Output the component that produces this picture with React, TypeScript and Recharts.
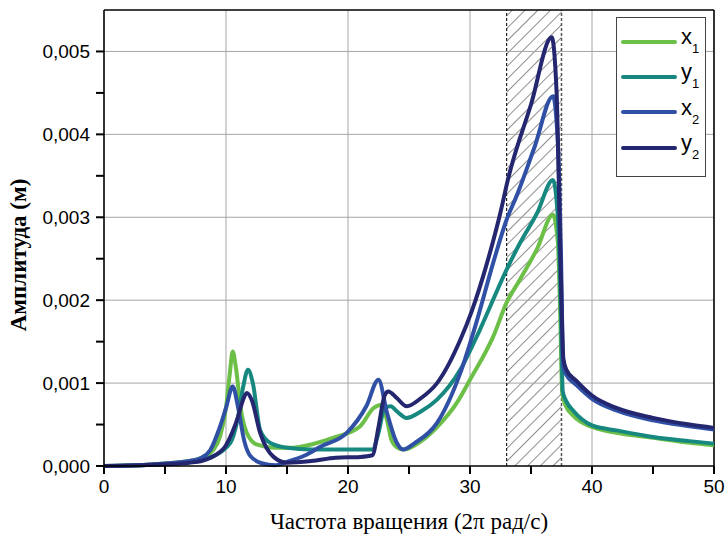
import React from 'react';
import { LineChart, Line, XAxis, YAxis, ReferenceLine, ReferenceArea, Legend } from 'recharts';

// x1
const x1Freq = [0, 3, 5, 7, 8, 9, 9.5, 10, 10.3, 10.55, 10.8, 11.2, 11.7, 12.5, 14, 15.5, 17, 19, 21, 22.1, 22.8, 23.2, 23.6, 24.2, 24.6, 26, 27.3, 29, 30, 31.9, 33, 34.1, 35.5, 36.8, 37.2, 37.4, 37.55, 37.8, 38.5, 40, 42, 45, 48, 50];
const x1Amp = [0, 0.00001, 0.00003, 0.00006, 0.0001, 0.0002, 0.00035, 0.0007, 0.0011, 0.00138, 0.0012, 0.0007, 0.0004, 0.00026, 0.00022, 0.00022, 0.00026, 0.00035, 0.00048, 0.0007, 0.00074, 0.00055, 0.0003, 0.00021, 0.0002, 0.0003, 0.00047, 0.00078, 0.00104, 0.00156, 0.00197, 0.00225, 0.00262, 0.00303, 0.0027, 0.0018, 0.0009, 0.00074, 0.0006, 0.00047, 0.0004, 0.00034, 0.00028, 0.00025];

// y1
const y1Freq = [0, 3, 5, 7, 8, 9, 10, 10.5, 11, 11.4, 11.8, 12.2, 12.8, 13.6, 15, 17, 19, 21, 22, 22.5, 23, 23.5, 24, 24.8, 26, 27.3, 29.2, 30.8, 33, 34.1, 35.5, 36.8, 37.2, 37.45, 37.6, 37.9, 38.5, 40, 42, 45, 48, 50];
const y1Amp = [0, 0.00001, 0.00002, 0.00005, 0.00008, 0.00012, 0.00022, 0.00032, 0.0006, 0.00095, 0.00116, 0.001, 0.00043, 0.00028, 0.00022, 0.0002, 0.0002, 0.0002, 0.0002, 0.0004, 0.0007, 0.00072, 0.00066, 0.00058, 0.00066, 0.0008, 0.00116, 0.00164, 0.00237, 0.00269, 0.00305, 0.00345, 0.003, 0.0019, 0.0009, 0.00078, 0.00066, 0.00049, 0.00043, 0.00035, 0.0003, 0.00027];

// x2
const x2Freq = [0, 3, 5, 7, 8, 8.7, 9.5, 10, 10.55, 11, 11.5, 12, 13, 14, 15, 16.5, 17.7, 19.9, 21.5, 22.5, 23.2, 24, 24.5, 25.5, 27.3, 29.2, 30.5, 31.9, 33, 33.8, 35.3, 36.8, 37.2, 37.45, 37.65, 37.9, 38.7, 40, 42, 45, 48, 50];
const x2Amp = [0, 0.00001, 0.00003, 0.00006, 0.0001, 0.00019, 0.00047, 0.0007, 0.00096, 0.0007, 0.0003, 0.00012, 0.00003, 0.00001, 0.00005, 0.00013, 0.00023, 0.0004, 0.00072, 0.00104, 0.00064, 0.00028, 0.0002, 0.00028, 0.00052, 0.00112, 0.00172, 0.00245, 0.00297, 0.00325, 0.00385, 0.00446, 0.0039, 0.0026, 0.0012, 0.0011, 0.00098, 0.00081, 0.00067, 0.00055, 0.00048, 0.00044];

// y2
const y2Freq = [0, 3, 5, 7, 8, 9, 10, 10.5, 11, 11.4, 11.7, 12.1, 12.8, 13.9, 15, 17, 19, 21, 22, 22.5, 23, 23.3, 24, 24.8, 26, 27.3, 29.2, 30.1, 31.4, 32.5, 33.1, 35, 36.7, 37.1, 37.4, 37.65, 37.9, 38.7, 40, 42, 45, 48, 50];
const y2Amp = [0, 0.00001, 0.00002, 0.00004, 0.00006, 0.00012, 0.00025, 0.0004, 0.0006, 0.0008, 0.00088, 0.0008, 0.0004, 0.00011, 0.00004, 0.00006, 0.0001, 0.00011, 0.00013, 0.00047, 0.00085, 0.0009, 0.00082, 0.00072, 0.00082, 0.001, 0.00152, 0.00185, 0.00245, 0.00306, 0.00345, 0.00436, 0.00517, 0.0045, 0.0026, 0.0013, 0.00116, 0.00103, 0.00085, 0.0007, 0.00058, 0.0005, 0.00046];

const xTicks = [0, 5, 10, 15, 20, 25, 30, 35, 40, 45, 50];
const yTicks = [0, 0.0005, 0.001, 0.0015, 0.002, 0.0025, 0.003, 0.0035, 0.004, 0.0045, 0.005];
const xGrid = [10, 20, 30, 40];
const yGrid = [0.001, 0.002, 0.003, 0.004, 0.005];
const zone = [33, 37.5];

const toRows = (f: number[], a: number[]) => f.map((v, i) => ({ f: v, amp: a[i] }));

const series = [
  { name: 'x1', data: toRows(x1Freq, x1Amp), color: '#6cbf47' },
  { name: 'y1', data: toRows(y1Freq, y1Amp), color: '#178880' },
  { name: 'x2', data: toRows(x2Freq, x2Amp), color: '#3050a6' },
  { name: 'y2', data: toRows(y2Freq, y2Amp), color: '#24276f' },
];
const order = series.map((s) => s.name);

const TICK_LEN = 8;
const TICK_GAP = 6;
const tickFont = { fontFamily: '"Liberation Sans", Arial, sans-serif', fontSize: 19, fill: '#000' };

// with a custom tick the built-in tick line disappears, so draw it here
const XTick = (props: any) => {
  const { x, y, payload } = props;
  const axisY = y - TICK_LEN - TICK_GAP;
  return (
    <g>
      <line x1={x} x2={x} y1={axisY} y2={axisY + TICK_LEN} stroke="#000" strokeWidth={2} />
      {payload.value % 10 === 0 && (
        <text x={x} y={y} dy="0.71em" textAnchor="middle" {...tickFont}>
          {payload.value}
        </text>
      )}
    </g>
  );
};

const YTick = (props: any) => {
  const { x, y, payload } = props;
  const axisX = x + TICK_LEN + TICK_GAP;
  return (
    <g>
      <line x1={axisX - TICK_LEN} x2={axisX} y1={y} y2={y} stroke="#000" strokeWidth={2} />
      {Math.round(payload.value * 10000) % 10 === 0 && (
        <text x={x} y={y} dy="0.355em" textAnchor="end" {...tickFont}>
          {payload.value.toFixed(3).replace('.', ',')}
        </text>
      )}
    </g>
  );
};

const LegendBox = (props: any) => {
  const items = [...(props.payload || [])].sort((a: any, b: any) => order.indexOf(a.value) - order.indexOf(b.value));
  return (
    <div style={{ border: '1px solid #444', background: '#fff', width: 90, height: 160, boxSizing: 'border-box', paddingTop: 6 }}>
      {items.map((it: any) => (
        <div key={it.value} style={{ display: 'flex', alignItems: 'center', height: 35.3 }}>
          <div style={{ marginLeft: 4, width: 56, height: 4, borderRadius: 2, background: it.color }} />
          <span style={{ marginLeft: 4, fontFamily: '"Liberation Sans", Arial, sans-serif', fontSize: 22, lineHeight: '22px', position: 'relative', top: -3 }}>
            {it.value[0]}
            <span style={{ fontSize: 13, position: 'relative', top: 9 }}>{it.value.slice(1)}</span>
          </span>
        </div>
      ))}
    </div>
  );
};

export default function App() {
  return (
    <div style={{ position: 'absolute', left: 0, top: 0, background: '#fff' }}>
      <LineChart width={727} height={541} margin={{ top: 10, right: 13, bottom: 0, left: 0 }}>
        <defs>
          <pattern id="hatch" width="9" height="9" patternUnits="userSpaceOnUse" patternTransform="rotate(45)">
            <line x1="0" y1="0" x2="0" y2="9" stroke="#222" strokeWidth="1" />
          </pattern>
        </defs>
        <XAxis
          type="number"
          dataKey="f"
          domain={[0, 50]}
          ticks={xTicks}
          interval={0}
          height={75}
          tickSize={TICK_LEN}
          tickMargin={TICK_GAP}
          tick={<XTick />}
          tickLine={false}
          axisLine={{ stroke: '#000', strokeWidth: 1.6 }}
          label={{
            content: () => (
              <text x={409} y={529} textAnchor="middle" fontFamily='"Liberation Serif", "Times New Roman", serif' fontSize={23} fill="#000">
                Частота вращения (2π рад/с)
              </text>
            ),
          }}
        />
        <YAxis
          type="number"
          domain={[0, 0.0055]}
          ticks={yTicks}
          interval={0}
          width={104}
          tickSize={TICK_LEN}
          tickMargin={TICK_GAP}
          tick={<YTick />}
          tickLine={false}
          axisLine={{ stroke: '#000', strokeWidth: 1.6 }}
          label={{
            content: () => (
              <text x={18} y={255} transform="rotate(-90 18 255)" textAnchor="middle" dominantBaseline="central" fontFamily='"Liberation Serif", "Times New Roman", serif' fontWeight="bold" fontSize={23} fill="#000">
                Амплитуда (м)
              </text>
            ),
          }}
        />
        {xGrid.map((v) => (
          <ReferenceLine key={'gx' + v} x={v} stroke="#a6a6a6" strokeWidth={1} />
        ))}
        {yGrid.map((v) => (
          <ReferenceLine key={'gy' + v} y={v} stroke="#a6a6a6" strokeWidth={1} />
        ))}
        <ReferenceArea x1={zone[0]} x2={zone[1]} fill="url(#hatch)" fillOpacity={1} stroke="none" />
        <ReferenceLine x={zone[0]} stroke="#222" strokeDasharray="3 2" strokeWidth={1.2} />
        <ReferenceLine x={zone[1]} stroke="#555" strokeDasharray="3 2" strokeWidth={1.5} />
        <ReferenceLine y={0.0055} stroke="#000" strokeWidth={1.6} />
        <ReferenceLine x={50} stroke="#000" strokeWidth={1.6} />
        {series.map((s) => (
          <Line
            key={s.name}
            data={s.data}
            dataKey="amp"
            name={s.name}
            type="monotone"
            stroke={s.color}
            strokeWidth={4}
            dot={false}
            activeDot={false}
            isAnimationActive={false}
          />
        ))}
        <Legend
          layout="vertical"
          align="center"
          verticalAlign="middle"
          wrapperStyle={{ left: 616, top: 17, width: 90 }}
          content={<LegendBox />}
        />
      </LineChart>
    </div>
  );
}
